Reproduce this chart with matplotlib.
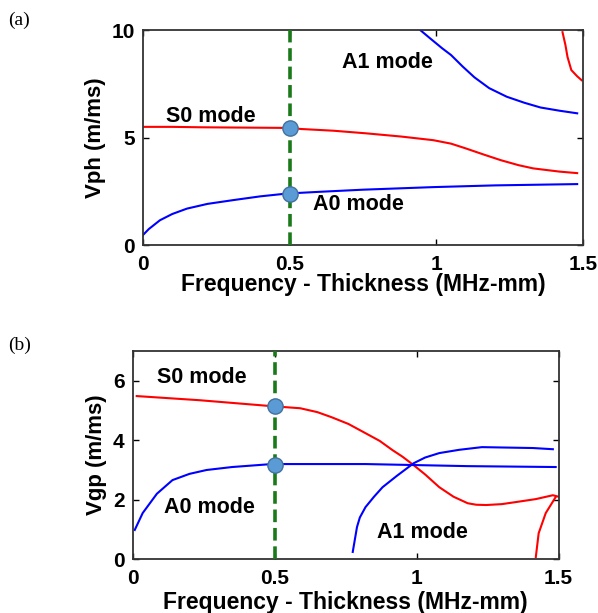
import numpy as np
import matplotlib
matplotlib.use('Agg')
import matplotlib.pyplot as plt

plt.rcParams['font.family'] = ['Liberation Sans', 'DejaVu Sans']
plt.rcParams['font.weight'] = 'bold'

# panel (a): phase velocity, Vph (m/ms)
a_s0_x = [0.0, 0.1, 0.2, 0.3, 0.4, 0.5, 0.54, 0.65, 0.76, 0.88, 0.99, 1.05, 1.1, 1.16, 1.22, 1.28, 1.33, 1.42, 1.48]
a_s0_y = [5.5, 5.5, 5.48, 5.47, 5.46, 5.45, 5.4, 5.32, 5.2, 5.05, 4.88, 4.72, 4.5, 4.22, 3.95, 3.72, 3.57, 3.42, 3.35]
a_a0_x = [0.0, 0.02, 0.058, 0.1, 0.15, 0.22, 0.31, 0.4, 0.49, 0.6, 0.75, 0.99, 1.2, 1.48]
a_a0_y = [0.47, 0.75, 1.16, 1.45, 1.7, 1.92, 2.1, 2.27, 2.4, 2.48, 2.58, 2.7, 2.78, 2.84]
a_a1_x = [0.945, 0.98, 1.02, 1.05, 1.09, 1.13, 1.18, 1.24, 1.3, 1.355, 1.42, 1.48]
a_a1_y = [10.0, 9.6, 9.15, 8.84, 8.3, 7.8, 7.3, 6.9, 6.62, 6.4, 6.25, 6.13]
a_s1_x = [1.43, 1.44, 1.447, 1.46, 1.48, 1.495]
a_s1_y = [9.9, 9.3, 8.75, 8.14, 7.85, 7.67]
a_dots = [5.45, 2.4]

# panel (b): group velocity, Vgp (m/ms)
b_s0_x = [0.014, 0.236, 0.49, 0.59, 0.65, 0.70, 0.76, 0.82, 0.87, 0.915, 0.95, 0.99, 1.03, 1.08, 1.13,
          1.18, 1.21, 1.245, 1.3, 1.35, 1.42, 1.48, 1.5]
b_s0_y = [5.49, 5.35, 5.15, 5.08, 4.95, 4.78, 4.55, 4.24, 3.98, 3.67, 3.45, 3.16, 2.85, 2.42, 2.1,
          1.88, 1.83, 1.82, 1.85, 1.92, 2.02, 2.15, 2.1]
b_a0_x = [0.007, 0.035, 0.085, 0.14, 0.2, 0.26, 0.35, 0.49, 0.82, 1.18, 1.49]
b_a0_y = [0.98, 1.55, 2.2, 2.66, 2.87, 3.0, 3.1, 3.2, 3.2, 3.13, 3.1]
b_a1_x = [0.775, 0.79, 0.8, 0.82, 0.85, 0.88, 0.93, 0.99, 1.03, 1.08, 1.15, 1.23, 1.41, 1.48]
b_a1_y = [0.24, 1.08, 1.4, 1.75, 2.1, 2.42, 2.8, 3.23, 3.42, 3.57, 3.68, 3.77, 3.74, 3.7]
b_s1_x = [1.42, 1.43, 1.455, 1.49]
b_s1_y = [0.07, 0.87, 1.55, 2.09]
b_dots = [5.15, 3.17]

fd_mark = 0.5
xticks = [0, 0.5, 1, 1.5]
xtick_labels = ['0', '0.5', '1', '1.5']

fig = plt.figure(figsize=(5.98, 6.13), dpi=100)
ax1 = fig.add_axes([0.239, 0.600, 0.736, 0.351])
ax2 = fig.add_axes([0.222, 0.088, 0.712, 0.339])

red = '#ff0000'
blue = '#0000ff'

def style(ax, ylim, yticks, ylabel, xlabelpad):
    ax.set_xlim(0, 1.5)
    ax.set_ylim(*ylim)
    ax.set_xticks(xticks)
    ax.set_xticklabels(xtick_labels)
    ax.set_yticks(yticks)
    ax.tick_params(direction='in', length=4, width=1, top=True, right=True,
                   labelsize=15, colors='black')
    ax.tick_params(axis='x', pad=7)
    ax.tick_params(axis='y', pad=6)
    for s in ax.spines.values():
        s.set_linewidth(1.3)
        s.set_color('#333333')
    ax.set_xlabel('Frequency - Thickness (MHz-mm)', fontsize=16.5, fontweight='bold', labelpad=xlabelpad)
    ax.set_ylabel(ylabel, fontsize=16, fontweight='bold', labelpad=4)

for ax, s0x, s0y, a0x, a0y, a1x, a1y, s1x, s1y, dots in [
        (ax1, a_s0_x, a_s0_y, a_a0_x, a_a0_y, a_a1_x, a_a1_y, a_s1_x, a_s1_y, a_dots),
        (ax2, b_s0_x, b_s0_y, b_a0_x, b_a0_y, b_a1_x, b_a1_y, b_s1_x, b_s1_y, b_dots)]:
    ax.plot(s0x, s0y, color=red, lw=1.5)
    ax.plot(s1x, s1y, color=red, lw=1.5)
    ax.plot(a0x, a0y, color=blue, lw=1.5)
    ax.plot(a1x, a1y, color=blue, lw=1.5)
    ax.axvline(fd_mark, color='#1a7a1a', lw=2.6, ls=(0, (3.5, 1.6)), zorder=3)
    ax.plot([fd_mark] * len(dots), dots, 'o', ms=11, mfc='#5b9bd5', mec='#41719c',
            mew=1, zorder=4, clip_on=False)

style(ax1, (0, 10), [0, 5, 10], 'Vph (m/ms)', -1)
style(ax2, (0, 7), [0, 2, 4, 6], 'Vgp (m/ms)', 2)

ann = dict(fontsize=15.5, fontweight='bold', va='center')
ax1.text(0.08, 6.0, 'S0 mode', **ann)
ax1.text(0.68, 8.5, 'A1 mode', **ann)
ax1.text(0.58, 1.9, 'A0 mode', **ann)
ax2.text(0.085, 6.1, 'S0 mode', **ann)
ax2.text(0.11, 1.75, 'A0 mode', **ann)
ax2.text(0.86, 0.88, 'A1 mode', **ann)

fig.text(8 / 598, 1 - 20 / 613, '(a)', family='Liberation Serif', fontweight='normal',
         fontsize=14, va='center')
fig.text(8 / 598, 1 - 345 / 613, '(b)', family='Liberation Serif', fontweight='normal',
         fontsize=14, va='center')

fig.savefig('out.png', dpi=100)
